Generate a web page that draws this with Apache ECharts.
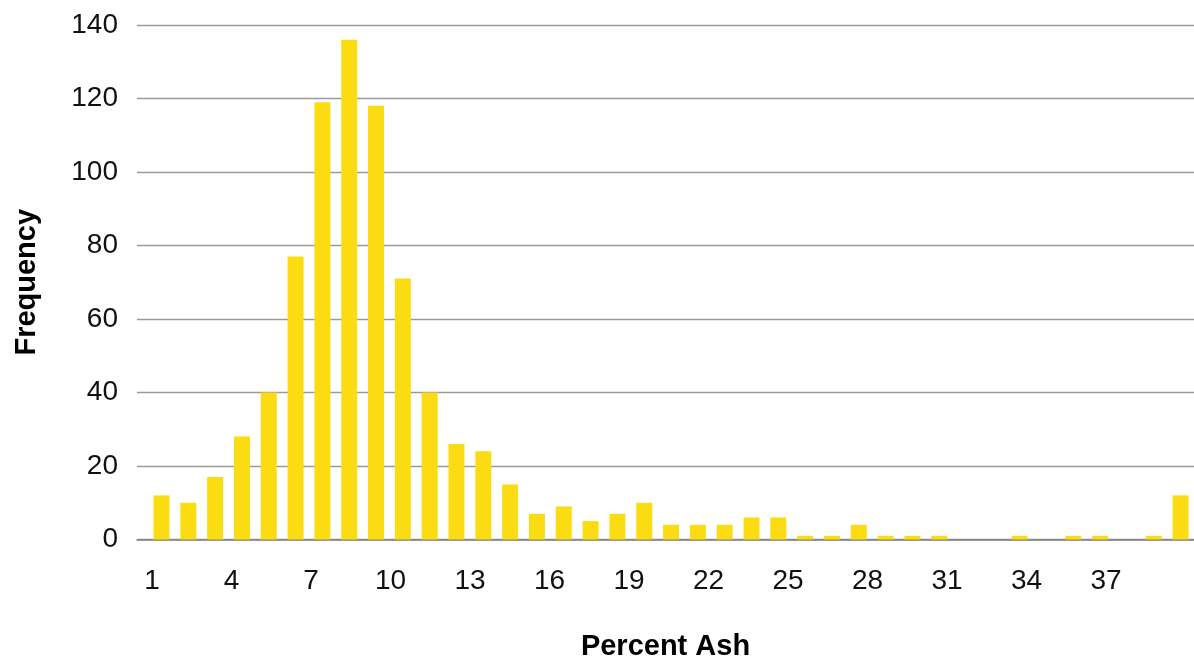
<!DOCTYPE html>
<html>
<head>
<meta charset="utf-8">
<script src="https://cdn.jsdelivr.net/npm/echarts@6/dist/echarts.min.js"></script>
<style>html,body{margin:0;padding:0;background:#fff}#c{width:1194px;height:660px}</style>
</head>
<body>
<div id="c"></div>
<script>
// Data
const categories = [1,2,3,4,5,6,7,8,9,10,11,12,13,14,15,16,17,18,19,20,21,22,23,24,25,26,27,28,29,30,31,32,33,34,35,36,37,38,39];
const frequency  = [12,10,17,28,40,77,119,136,118,71,40,26,24,15,7,9,5,7,10,4,4,4,6,6,1,1,4,1,1,1,0,0,1,0,1,1,0,1,12];
const xTickLabels = [1,4,7,10,13,16,19,22,25,28,31,34,37];
const yTicks = [0,20,40,60,80,100,120,140];

const font = '"Liberation Sans", Arial, sans-serif';
const chart = echarts.init(document.getElementById('c'), null, {renderer:'canvas'});
chart.setOption({
  animation: false,
  backgroundColor: '#fff',
  grid: {left: 137, right: 0, top: 25, bottom: 120.5, containLabel: false, outerBoundsMode: 'none'},
  xAxis: [{
    type: 'value',
    min: 0.0865, max: 39.5,
    axisLine: {show: true, lineStyle: {color: '#808080', width: 1.5}},
    axisTick: {show: false},
    axisLabel: {show: false},
    splitLine: {show: false}
  }, {
    type: 'value',
    position: 'bottom',
    min: 0.434, max: 40.32,
    axisLine: {show: false},
    axisTick: {show: false},
    splitLine: {show: false},
    axisLabel: {
      customValues: xTickLabels,
      fontSize: 28, color: '#111', fontFamily: font, margin: 28
    },
    name: 'Percent Ash',
    nameLocation: 'middle',
    nameGap: 93,
    nameTextStyle: {fontSize: 29, fontWeight: 'bold', color: '#000', fontFamily: font}
  }],
  yAxis: {
    type: 'value',
    min: yTicks[0], max: yTicks[yTicks.length - 1], interval: 20,
    axisLine: {show: false},
    axisTick: {show: false},
    axisLabel: {fontSize: 28, color: '#111', fontFamily: font, margin: 19},
    splitLine: {show: true, lineStyle: {color: '#9a9a9a', width: 1.3}},
    name: 'Frequency',
    nameLocation: 'middle',
    nameRotate: 90,
    nameGap: 96,
    nameTextStyle: {fontSize: 29, fontWeight: 'bold', color: '#000', fontFamily: font}
  },
  series: [{
    type: 'bar',
    xAxisIndex: 0,
    barWidth: 16,
    data: categories.map((c, i) => [c, frequency[i]]),
    itemStyle: {color: '#FBDC12'}
  }]
});
</script>
</body>
</html>
